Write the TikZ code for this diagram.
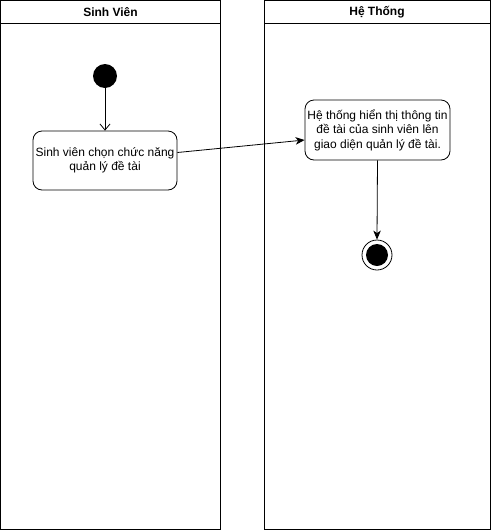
\documentclass[tikz,border=0pt]{standalone}
\usepackage{fontspec}
\setmainfont{Liberation Sans}
\usetikzlibrary{arrows.meta}
\begin{document}
\begin{tikzpicture}[x=1pt,y=-1pt,
  lane/.style={draw=black,line width=1pt},
  lanetitle/.style={font=\fontsize{12}{14}\selectfont\bfseries},
  action/.style={draw=black,line width=0.8pt,rounded corners=9pt,align=center,
    font=\fontsize{12}{14.5}\selectfont,inner sep=0pt},
  flow/.style={draw=black,line width=0.8pt},
  openarrow/.style={flow,-{Straight Barb[length=6pt,width=10pt]}},
  filledarrow/.style={flow,-{Stealth[length=9pt,width=7.5pt,inset=2.5pt]}}]
\useasboundingbox (0,0) rectangle (491,531);
\fill[white] (0,0) rectangle (491,531);

% swimlane: Sinh Viên
\draw[lane] (0.5,0.5) rectangle (220.5,529.5);
\draw[lane] (0.5,23.5) -- (220.5,23.5);
\node[lanetitle] (laneA) at (110.5,12) {Sinh Viên};

% swimlane: Hệ Thống
\draw[lane] (264.5,0.5) rectangle (490,529.5);
\draw[lane] (264.5,23.5) -- (490,23.5);
\node[lanetitle] (laneB) at (377,12) {Hệ Thống};

% start node
\node[circle,fill=black,inner sep=0pt,minimum size=24pt] (start) at (105,76) {};

% actions
\node[action,minimum width=144pt,minimum height=59pt] (choose) at (105,160.5)
  {Sinh viên chọn chức năng\\quản lý đề tài};
\node[action,minimum width=145pt,minimum height=60pt] (show) at (377.5,130)
  {Hệ thống hiển thị thông tin\\đề tài của sinh viên lên\\giao diện quản lý đề tài.};

% final node
\node[circle,draw=black,line width=0.8pt,inner sep=0pt,minimum size=30pt] (final) at (377,255) {};
\fill[black] (final.center) circle (11pt);

% flows
\draw[openarrow] (start.south) -- (choose.north);
\draw[filledarrow] ([yshift=8pt]choose.east) -- ([yshift=-10pt]show.west);
\draw[filledarrow] (show.south) -- (final.north);
\end{tikzpicture}
\end{document}
